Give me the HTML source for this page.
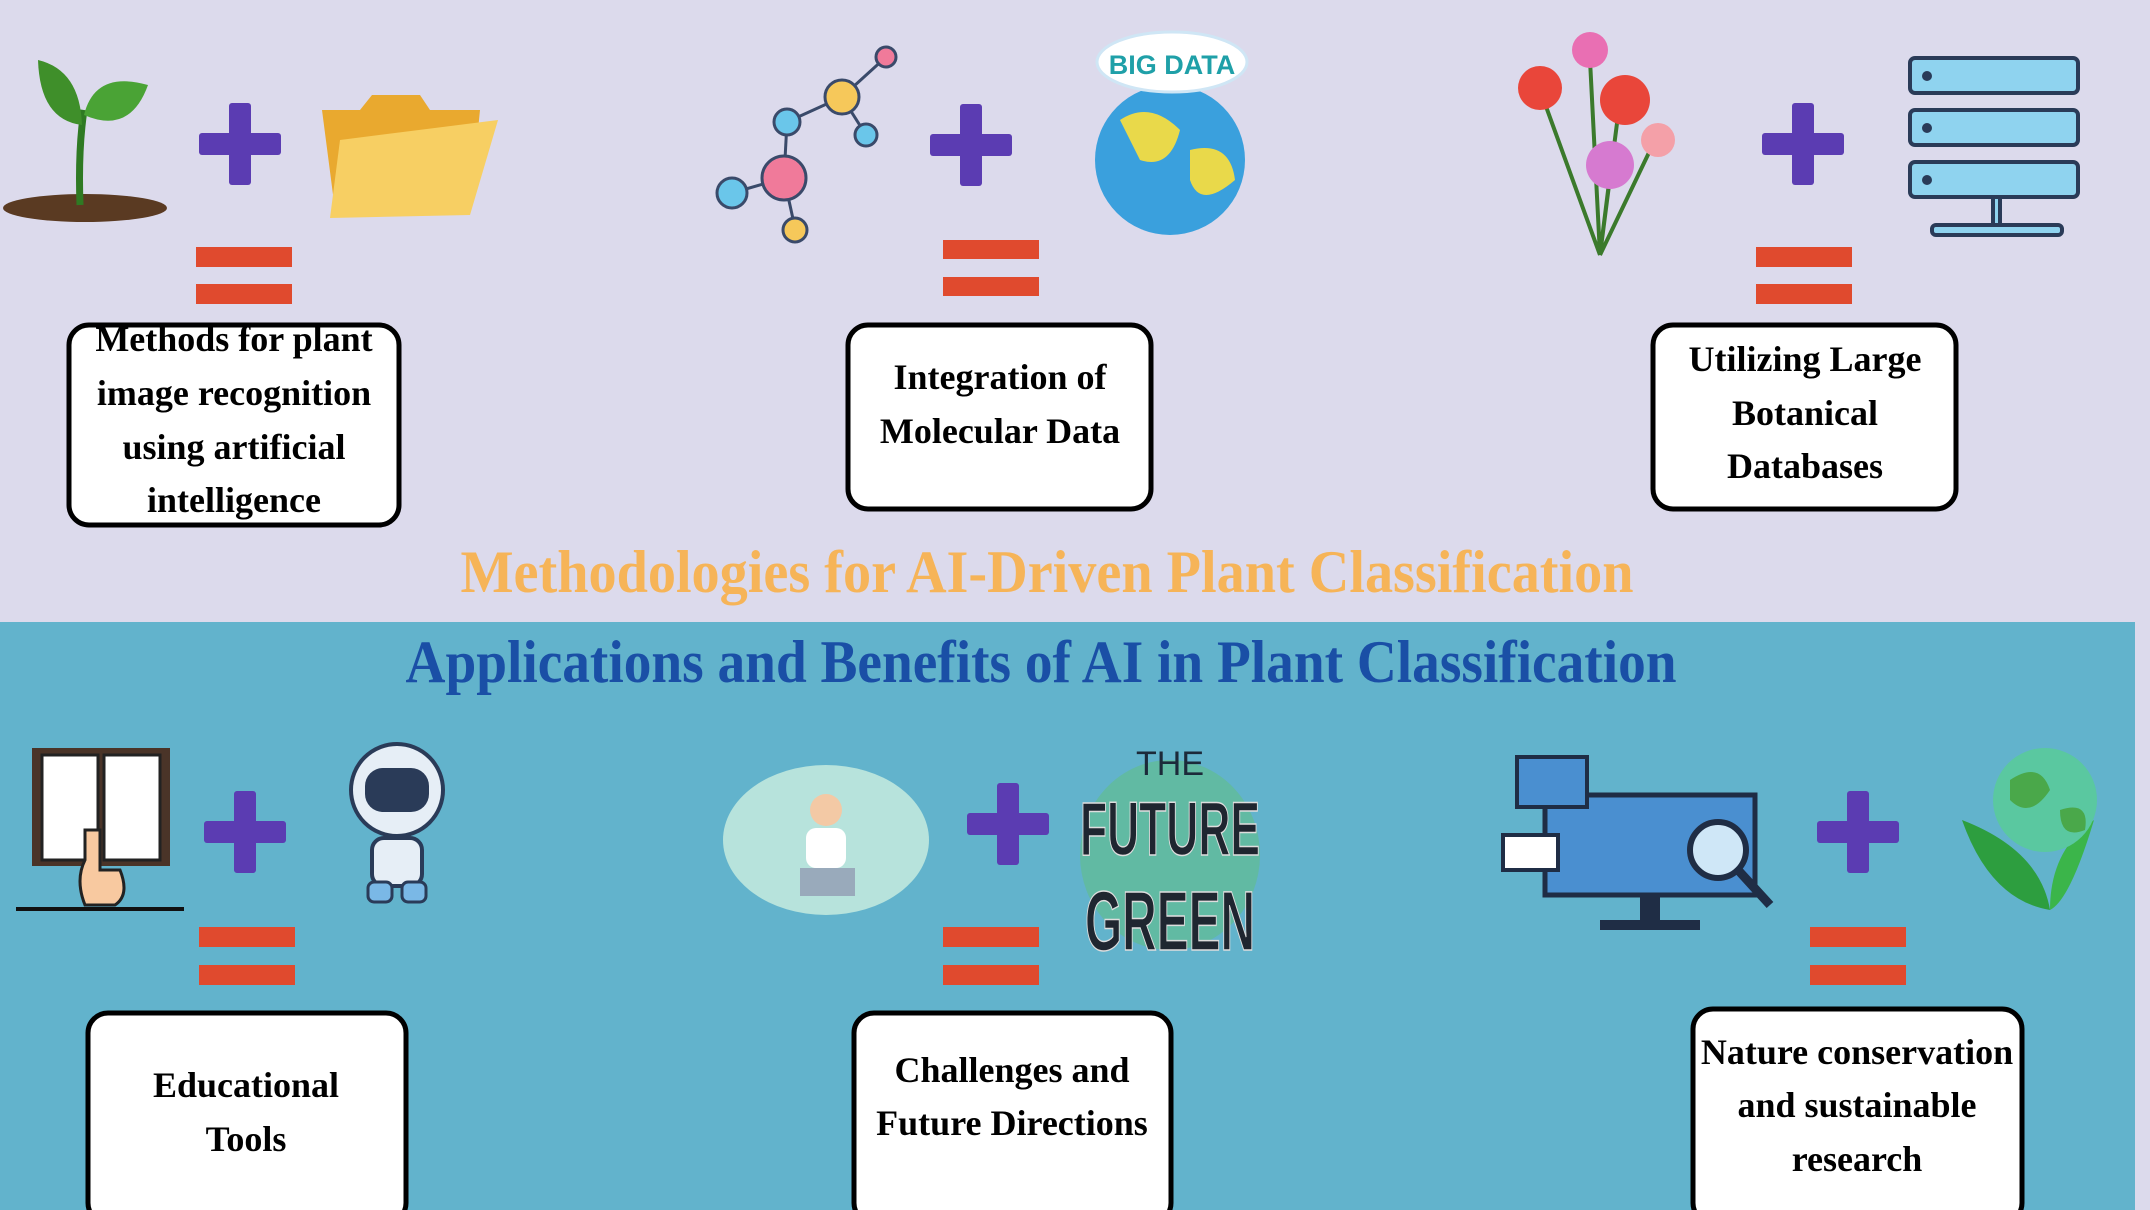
<!DOCTYPE html>
<html><head><meta charset="utf-8"><style>
html,body{margin:0;padding:0;width:2150px;height:1210px;overflow:hidden;background:#dcdaec}
svg{display:block}
.t{font-family:"Liberation Serif",serif;font-weight:bold;fill:#000;text-anchor:middle}
</style></head><body>
<svg width="2150" height="1210" viewBox="0 0 2150 1210" xmlns="http://www.w3.org/2000/svg">
<rect x="0" y="0" width="2150" height="622" fill="#dcdaec"/>
<rect x="0" y="622" width="2135" height="588" fill="#62b3cc"/>

<!-- plus signs -->
<g fill="#5b3cb2">
<rect x="199" y="133" width="82" height="22" rx="3"/><rect x="229" y="103" width="22" height="82" rx="3"/>
<rect x="930" y="134" width="82" height="22" rx="3"/><rect x="960" y="104" width="22" height="82" rx="3"/>
<rect x="1762" y="133" width="82" height="22" rx="3"/><rect x="1792" y="103" width="22" height="82" rx="3"/>
<rect x="204" y="821" width="82" height="22" rx="3"/><rect x="234" y="791" width="22" height="82" rx="3"/>
<rect x="967" y="813" width="82" height="22" rx="3"/><rect x="997" y="783" width="22" height="82" rx="3"/>
<rect x="1817" y="821" width="82" height="22" rx="3"/><rect x="1847" y="791" width="22" height="82" rx="3"/>
</g>
<!-- equals -->
<g fill="#e04a2e">
<rect x="196" y="247" width="96" height="20"/><rect x="196" y="284" width="96" height="20"/>
<rect x="943" y="240" width="96" height="19"/><rect x="943" y="277" width="96" height="19"/>
<rect x="1756" y="247" width="96" height="20"/><rect x="1756" y="284" width="96" height="20"/>
<rect x="199" y="927" width="96" height="20"/><rect x="199" y="965" width="96" height="20"/>
<rect x="943" y="927" width="96" height="20"/><rect x="943" y="965" width="96" height="20"/>
<rect x="1810" y="927" width="96" height="20"/><rect x="1810" y="965" width="96" height="20"/>
</g>

<!-- boxes -->
<g fill="#fff" stroke="#000" stroke-width="5">
<rect x="69" y="325" width="330" height="200" rx="20"/>
<rect x="848" y="325" width="303" height="184" rx="20"/>
<rect x="1653" y="325" width="303" height="184" rx="20"/>
<rect x="88" y="1013" width="318" height="210" rx="20"/>
<rect x="854" y="1013" width="317" height="210" rx="20"/>
<rect x="1693" y="1009" width="329" height="214" rx="20"/>
</g>
<g class="t" font-size="36">
<text class="t" x="234" y="351">Methods for plant</text>
<text class="t" x="234" y="405">image recognition</text>
<text class="t" x="234" y="459">using artificial</text>
<text class="t" x="234" y="512">intelligence</text>
<text class="t" x="1000" y="389">Integration of</text>
<text class="t" x="1000" y="443">Molecular Data</text>
<text class="t" x="1805" y="371">Utilizing Large</text>
<text class="t" x="1805" y="425">Botanical</text>
<text class="t" x="1805" y="478">Databases</text>
<text class="t" x="246" y="1097">Educational</text>
<text class="t" x="246" y="1151">Tools</text>
<text class="t" x="1012" y="1082">Challenges and</text>
<text class="t" x="1012" y="1135">Future Directions</text>
<text class="t" x="1857" y="1064">Nature conservation</text>
<text class="t" x="1857" y="1117">and sustainable</text>
<text class="t" x="1857" y="1171">research</text>
</g>

<text class="t" x="1047" y="592" font-size="60" fill="#f6b458" style="fill:#f6b458" textLength="1173" lengthAdjust="spacingAndGlyphs">Methodologies for AI-Driven Plant Classification</text>
<text class="t" x="1041" y="682" font-size="60" style="fill:#1a4fa6" textLength="1271" lengthAdjust="spacingAndGlyphs">Applications and Benefits of AI in Plant Classification</text>

<!-- sprout -->
<ellipse cx="85" cy="208" rx="82" ry="14" fill="#5a3a22"/>
<path d="M80 205 Q78 150 84 110" stroke="#2f7a23" stroke-width="7" fill="none"/>
<path d="M82 125 Q40 120 38 60 Q80 70 82 125Z" fill="#3f8f2a"/>
<path d="M84 115 Q95 70 148 85 Q130 135 84 115Z" fill="#4aa335"/>
<!-- folder -->
<path d="M322 110 L360 110 L372 95 L420 95 L430 110 L480 110 L470 210 L335 210Z" fill="#e9a92f"/>
<path d="M340 140 L498 120 L470 215 L330 218Z" fill="#f7cf63"/>
<!-- molecule -->
<g stroke="#3a4a6a" stroke-width="3">
<line x1="732" y1="193" x2="784" y2="178"/><line x1="784" y1="178" x2="795" y2="228"/><line x1="784" y1="178" x2="787" y2="122"/><line x1="787" y1="122" x2="842" y2="97"/><line x1="842" y1="97" x2="866" y2="135"/><line x1="842" y1="97" x2="886" y2="57"/>
</g>
<circle cx="784" cy="178" r="22" fill="#f07a9a" stroke="#3a4a6a" stroke-width="3"/>
<circle cx="732" cy="193" r="15" fill="#6ac6ea" stroke="#3a4a6a" stroke-width="3"/>
<circle cx="795" cy="230" r="12" fill="#f6c85a" stroke="#3a4a6a" stroke-width="3"/>
<circle cx="787" cy="122" r="13" fill="#6ac6ea" stroke="#3a4a6a" stroke-width="3"/>
<circle cx="842" cy="97" r="17" fill="#f6c85a" stroke="#3a4a6a" stroke-width="3"/>
<circle cx="866" cy="135" r="11" fill="#6ac6ea" stroke="#3a4a6a" stroke-width="3"/>
<circle cx="886" cy="57" r="10" fill="#f07a9a" stroke="#3a4a6a" stroke-width="3"/>
<!-- big data globe -->
<circle cx="1170" cy="160" r="75" fill="#3aa0dd"/>
<path d="M1120 120 Q1150 100 1180 130 Q1170 170 1140 160Z M1190 150 Q1230 140 1235 180 Q1200 210 1190 180Z" fill="#e9d94a"/>
<ellipse cx="1172" cy="62" rx="75" ry="30" fill="#fff" stroke="#cfe6f5" stroke-width="3"/>
<text x="1172" y="74" font-family="Liberation Sans,sans-serif" font-weight="bold" font-size="27" fill="#1fa0a8" text-anchor="middle">BIG DATA</text>
<!-- flowers -->
<g stroke="#3b7a2c" stroke-width="4" fill="none"><path d="M1600 255 L1590 60 M1600 255 L1540 90 M1600 255 L1620 100 M1600 255 L1610 175 M1600 255 L1655 140"/></g>
<circle cx="1590" cy="50" r="18" fill="#e96fb3"/><circle cx="1540" cy="88" r="22" fill="#e9463a"/><circle cx="1625" cy="100" r="25" fill="#e9463a"/><circle cx="1610" cy="165" r="24" fill="#d67ad0"/><circle cx="1658" cy="140" r="17" fill="#f4a0a8"/>
<!-- server -->
<g fill="#8fd3ef" stroke="#2a3b58" stroke-width="4">
<rect x="1910" y="58" width="168" height="35" rx="5"/><rect x="1910" y="110" width="168" height="35" rx="5"/><rect x="1910" y="162" width="168" height="35" rx="5"/>
<rect x="1993" y="197" width="7" height="28"/><rect x="1932" y="225" width="130" height="10" rx="4"/>
</g>
<g fill="#2a3b58"><circle cx="1927" cy="76" r="5"/><circle cx="1927" cy="128" r="5"/><circle cx="1927" cy="180" r="5"/></g>

<!-- book -->
<rect x="32" y="748" width="138" height="118" fill="#4a3428"/>
<rect x="42" y="755" width="56" height="105" fill="#fff" stroke="#222" stroke-width="3"/><rect x="104" y="755" width="56" height="105" fill="#fff" stroke="#222" stroke-width="3"/>
<rect x="16" y="907" width="168" height="4" fill="#111"/>
<path d="M85 830 L100 830 L100 870 L120 870 Q130 895 115 905 L85 905 Q75 880 85 860Z" fill="#f8c9a0" stroke="#222" stroke-width="3"/>
<!-- robot -->
<circle cx="397" cy="790" r="46" fill="#e6eef6" stroke="#2a3b58" stroke-width="4"/>
<rect x="365" y="768" width="64" height="44" rx="18" fill="#2a3b58"/>
<rect x="372" y="838" width="50" height="48" rx="12" fill="#e6eef6" stroke="#2a3b58" stroke-width="4"/>
<rect x="368" y="882" width="24" height="20" rx="6" fill="#7ab8e6" stroke="#2a3b58" stroke-width="3"/><rect x="402" y="882" width="24" height="20" rx="6" fill="#7ab8e6" stroke="#2a3b58" stroke-width="3"/>
<!-- person bubble -->
<ellipse cx="826" cy="840" rx="103" ry="75" fill="#b7e3dc"/>
<circle cx="826" cy="810" r="16" fill="#f3c9a5"/><rect x="806" y="828" width="40" height="40" rx="10" fill="#fff"/><rect x="800" y="868" width="55" height="28" fill="#9ab"/>
<!-- future green -->
<ellipse cx="1170" cy="855" rx="90" ry="95" fill="#5fc17a" opacity="0.5"/>
<text x="1170" y="775" font-family="Liberation Sans,sans-serif" font-size="34" fill="#1c2a3a" text-anchor="middle">THE</text>
<text x="1170" y="855" font-family="Liberation Sans,sans-serif" font-weight="bold" font-size="76" fill="#1f2630" stroke="#ddd" stroke-width="1.5" text-anchor="middle" textLength="180" lengthAdjust="spacingAndGlyphs">FUTURE</text>
<text x="1170" y="950" font-family="Liberation Sans,sans-serif" font-weight="bold" font-size="84" fill="#1f2630" stroke="#ddd" stroke-width="1.5" text-anchor="middle" textLength="170" lengthAdjust="spacingAndGlyphs">GREEN</text>
<!-- computer -->
<rect x="1545" y="795" width="210" height="100" fill="#4a8fd0" stroke="#1f2d45" stroke-width="5"/>
<rect x="1640" y="895" width="20" height="25" fill="#1f2d45"/><rect x="1600" y="920" width="100" height="10" fill="#1f2d45"/>
<rect x="1517" y="757" width="70" height="50" fill="#4a8fd0" stroke="#1f2d45" stroke-width="4"/>
<rect x="1503" y="835" width="55" height="35" fill="#fff" stroke="#1f2d45" stroke-width="4"/>
<circle cx="1718" cy="850" r="28" fill="#cfe7f7" stroke="#1f2d45" stroke-width="6"/><line x1="1738" y1="870" x2="1770" y2="905" stroke="#1f2d45" stroke-width="9"/>
<!-- earth leaf -->
<path d="M1962 820 Q1990 900 2050 910 Q2040 850 1962 820Z" fill="#2d9e3f"/><path d="M2094 820 Q2070 900 2050 910 Q2050 850 2094 820Z" fill="#3bb54a"/>
<circle cx="2045" cy="800" r="52" fill="#5ac8a0"/><path d="M2010 780 Q2040 760 2050 790 Q2030 820 2010 800Z M2060 810 Q2090 800 2085 830 Q2060 840 2060 810Z" fill="#4aa84a"/>
</svg>
</body></html>
